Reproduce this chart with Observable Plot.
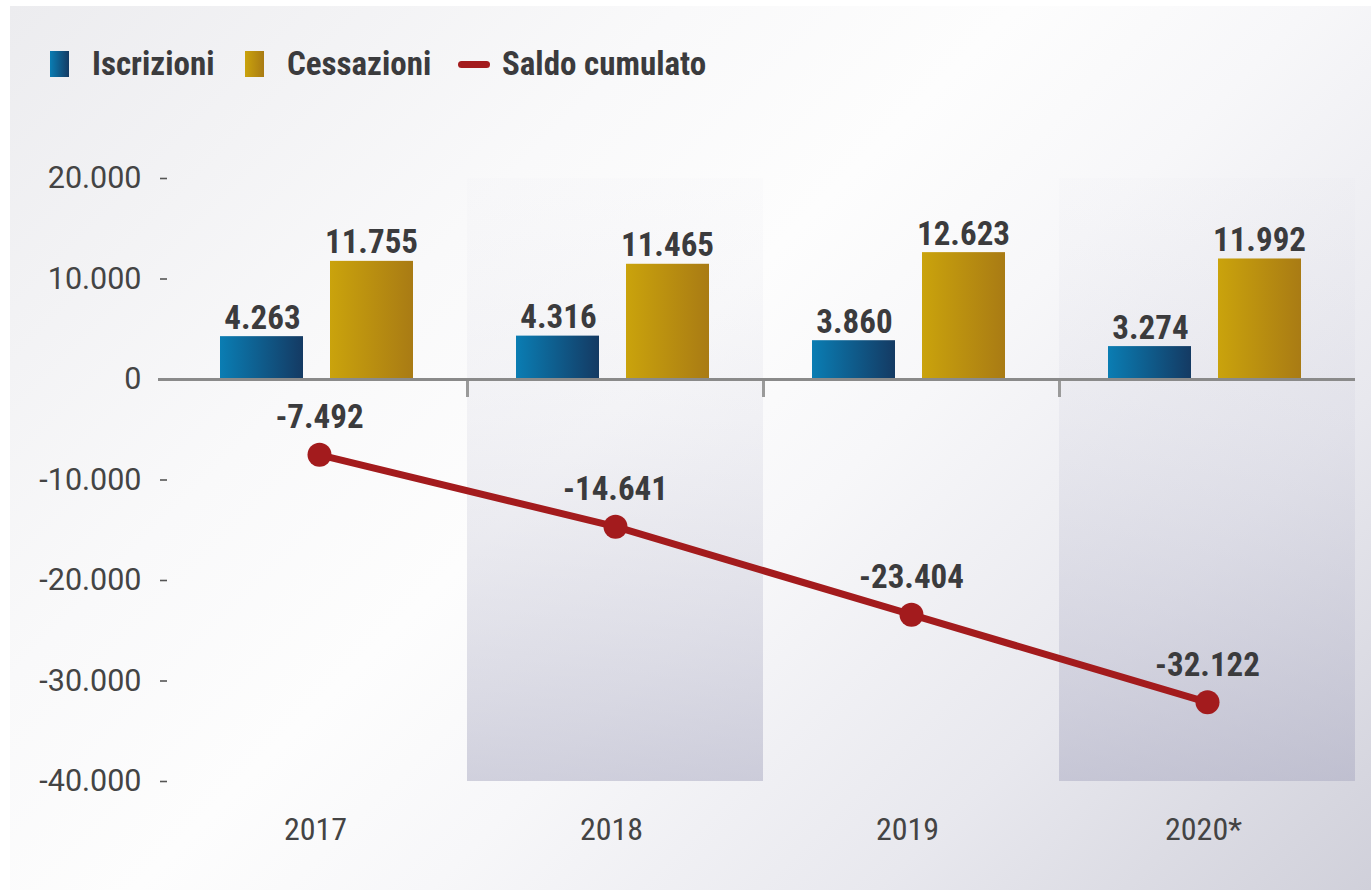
<!DOCTYPE html>
<html>
<head>
<meta charset="utf-8">
<script src="https://cdn.jsdelivr.net/npm/d3@7"></script>
<script src="https://cdn.jsdelivr.net/npm/@observablehq/plot@0.6"></script>
<style>
  html, body { margin: 0; padding: 0; width: 1371px; height: 890px; overflow: hidden; background: #ffffff; }
  #panel {
    position: absolute; left: 10px; top: 6px; right: 0; bottom: 0;
    background: linear-gradient(135deg, #ececef 0%, #f9f9fa 30%, #fdfdfd 45%, #f7f7f9 58%, #e8e8ee 78%, #d0d0da 100%);
  }
  #chart { position: absolute; left: -10px; top: 104px; }
  .legend { position: absolute; left: 0; top: 0; width: 1371px; height: 110px;
    font-family: "Roboto Condensed", "Liberation Sans Narrow", "DejaVu Sans Condensed", Roboto, sans-serif;
    font-weight: 700; font-size: 33px; color: #3b3b3d; }
  .item { position: absolute; top: 51px; height: 26px; line-height: 26px; white-space: nowrap; }
  .sw { position: absolute; top: 0; width: 19px; height: 26px; }
  .ln { position: absolute; top: 10px; width: 32px; height: 7px; border-radius: 4px; background: #a31b1d; }
</style>
</head>
<body>
<div id="panel">
  <div class="legend" style="left:-10px;top:-6px">
    <div class="item" style="left:50px"><div class="sw" style="left:0;background:linear-gradient(90deg,#0a7db3,#143a63)"></div><span style="position:absolute;left:42px;">Iscrizioni</span></div>
    <div class="item" style="left:245px"><div class="sw" style="left:0;background:linear-gradient(90deg,#caa30c,#a97b14)"></div><span style="position:absolute;left:42px;">Cessazioni</span></div>
    <div class="item" style="left:458px"><div class="ln" style="left:0"></div><span style="position:absolute;left:44px;">Saldo cumulato</span></div>
  </div>
  <div id="chart"></div>
</div>
<script>
const years = ["2017", "2018", "2019", "2020*"];
const iscrizioni = [4263, 4316, 3860, 3274];
const cessazioni = [11755, 11465, 12623, 11992];
const saldo = [-7492, -14641, -23404, -32122];
const yTicks = [20000, 10000, 0, -10000, -20000, -30000, -40000];
const shadedYears = ["2018", "2020*"];

const locale = d3.formatLocale({decimal: ",", thousands: ".", grouping: [3], currency: ["€", ""], minus: "-"});
const fmt = locale.format(",d");

const rowsI = years.map((y, i) => ({year: y, value: iscrizioni[i]}));
const rowsC = years.map((y, i) => ({year: y, value: cessazioni[i]}));
const rowsS = years.map((y, i) => ({year: y, value: saldo[i]}));

const condensed = '"Roboto Condensed", "Liberation Sans Narrow", "DejaVu Sans Condensed", Roboto, sans-serif';
const textColor = "#3b3b3d";
const xStart = 171, xEnd = 1355;
const bw = (xEnd - xStart) / years.length;

const svg = Plot.plot({
  width: 1371,
  height: 780,
  marginTop: 68,
  marginBottom: 109,
  marginLeft: 167,
  marginRight: 16,
  style: {background: "transparent", overflow: "visible"},
  x: {domain: years, range: [xStart, xEnd], padding: 0},
  y: {domain: [-40000, 20000]},
  marks: [
    Plot.cell(shadedYears, {x: d => d, fill: "url(#bandGrad)"}),
    Plot.axisY({ticks: yTicks, tickFormat: fmt, tickSize: 7, tickPadding: 19, fontSize: 30.5,
      fontFamily: "Roboto, sans-serif", color: "#444", stroke: "#555", strokeWidth: 1.6, label: null}),
    Plot.axisX({tickSize: 0, tickPadding: 36, fontSize: 32, fontFamily: condensed, color: "#444",
      label: null, dx: -4}),
    Plot.barY(rowsI, {x: "year", y: "value", fill: "url(#blueGrad)", insetLeft: 49, insetRight: 164}),
    Plot.barY(rowsC, {x: "year", y: "value", fill: "url(#goldGrad)", insetLeft: 159, insetRight: 54}),
    Plot.ruleY([0], {stroke: "#8a8a8a", strokeWidth: 3, insetLeft: -9}),
    Plot.ruleX(years.slice(1), {x: d => d, y1: 0, y2: 0, dx: -bw / 2, insetTop: 2, insetBottom: -18,
      stroke: "#9a9a9a", strokeWidth: 3}),
    Plot.text(rowsI, {x: "year", y: "value", text: d => fmt(d.value), dx: -57, dy: -8,
      lineAnchor: "bottom", fontSize: 33, fontWeight: 700, fontFamily: condensed, fill: textColor}),
    Plot.text(rowsC, {x: "year", y: "value", text: d => fmt(d.value), dx: 52, dy: -8,
      lineAnchor: "bottom", fontSize: 33, fontWeight: 700, fontFamily: condensed, fill: textColor}),
    Plot.line(rowsS, {x: "year", y: "value", stroke: "#a31b1d", strokeWidth: 7, strokeLinecap: "round"}),
    Plot.dot(rowsS, {x: "year", y: "value", r: 12, fill: "#a31b1d", stroke: "none"}),
    Plot.text(rowsS, {x: "year", y: "value", text: d => fmt(d.value), dy: -37,
      lineAnchor: "middle", fontSize: 33, fontWeight: 700, fontFamily: condensed, fill: textColor})
  ]
});

const defs = d3.select(svg).insert("defs", ":first-child");
const g1 = defs.append("linearGradient").attr("id", "blueGrad").attr("x1", 0).attr("y1", 0).attr("x2", 1).attr("y2", 0);
g1.append("stop").attr("offset", "0%").attr("stop-color", "#0a7db3");
g1.append("stop").attr("offset", "100%").attr("stop-color", "#143a63");
const g2 = defs.append("linearGradient").attr("id", "goldGrad").attr("x1", 0).attr("y1", 0).attr("x2", 1).attr("y2", 0);
g2.append("stop").attr("offset", "0%").attr("stop-color", "#caa30c");
g2.append("stop").attr("offset", "100%").attr("stop-color", "#a97b14");
const g3 = defs.append("linearGradient").attr("id", "bandGrad").attr("x1", 0).attr("y1", 0).attr("x2", 0).attr("y2", 1);
g3.append("stop").attr("offset", "0%").attr("stop-color", "#d8d8e4").attr("stop-opacity", 0.05);
g3.append("stop").attr("offset", "40%").attr("stop-color", "#c8c8d8").attr("stop-opacity", 0.2);
g3.append("stop").attr("offset", "100%").attr("stop-color", "#a8a8c0").attr("stop-opacity", 0.5);

document.getElementById("chart").appendChild(svg);
</script>
</body>
</html>
